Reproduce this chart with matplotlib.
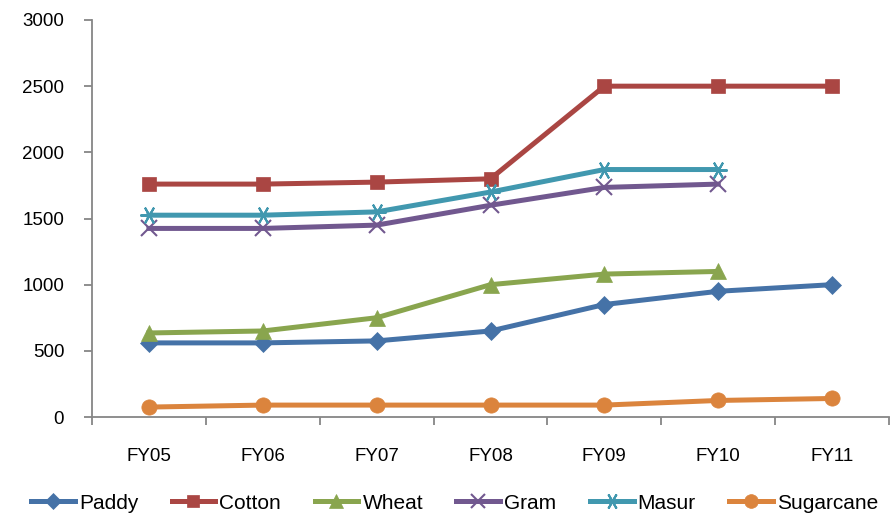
import matplotlib.pyplot as plt
import numpy as np

plt.rcParams['font.family'] = ['Liberation Sans Narrow', 'Liberation Sans', 'DejaVu Sans']

years = ['FY05', 'FY06', 'FY07', 'FY08', 'FY09', 'FY10', 'FY11']
paddy = [560, 560, 575, 650, 850, 950, 1000]
cotton = [1760, 1760, 1775, 1800, 2500, 2500, 2500]
wheat = [635, 650, 750, 1000, 1080, 1100, None]
gram = [1425, 1425, 1450, 1600, 1735, 1760, None]
masur = [1525, 1525, 1550, 1700, 1870, 1870, None]
sugarcane = [75, 90, 90, 90, 90, 125, 140]

series = [
    ('Paddy', paddy, '#4572A7', 'D', 9),
    ('Cotton', cotton, '#AA4643', 's', 10),
    ('Wheat', wheat, '#89A54E', '^', 11),
    ('Gram', gram, '#71588F', 'x', 11),
    ('Masur', masur, '#4198AF', (6, 2, 90), 13),
    ('Sugarcane', sugarcane, '#DB843D', 'o', 11),
]

fig = plt.figure(figsize=(8.91, 5.17), dpi=100)
ax = fig.add_axes([92/891, 100/517, 797/891, 397/517])
x = np.arange(len(years))
for name, vals, col, mk, ms in series:
    y = np.array([np.nan if v is None else v for v in vals], dtype=float)
    ax.plot(x, y, color=col, lw=3.6, marker=mk, markersize=ms,
            markeredgewidth=1.5 if mk in ('x', (6, 2, 90)) else 0.5,
            markeredgecolor=col, markerfacecolor=col, label=name)

ax.set_xlim(-0.5, 6.5)
ax.set_ylim(0, 3000)
ax.set_yticks(np.arange(0, 3001, 500))
ax.set_xticks(x)
ax.set_xticklabels(years)
ax.set_xticks(np.arange(-0.5, 7, 1), minor=True)
ax.tick_params(axis='x', which='major', length=0, pad=22, labelsize=13.5)
ax.tick_params(axis='x', which='minor', length=6, color='#868686', width=1.3)
ax.tick_params(axis='y', length=6, color='#868686', width=1.3, labelsize=13.5, pad=14)
for s in ['top', 'right']:
    ax.spines[s].set_visible(False)
for s in ['left', 'bottom']:
    ax.spines[s].set_color('#868686')
    ax.spines[s].set_linewidth(1.3)

ax.legend(loc='center', bbox_to_anchor=(0.455, -0.217), ncol=6, frameon=False,
          fontsize=15, handlelength=2.1, columnspacing=1.6, handletextpad=0.2,
          markerscale=0.9)
plt.savefig('out.png', dpi=100)
